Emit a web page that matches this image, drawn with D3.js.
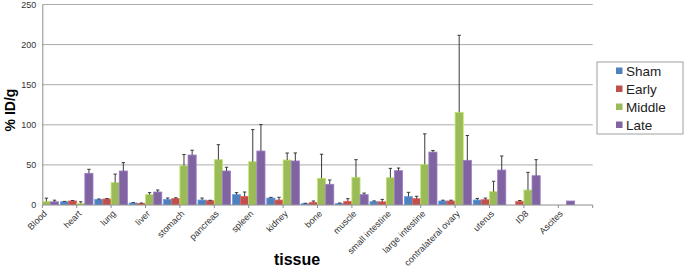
<!DOCTYPE html>
<html>
<head>
<meta charset="utf-8">
<script src="https://cdn.jsdelivr.net/npm/d3@7"></script>
<style>
  body { margin: 0; background: #fff; }
  svg { font-family: "Liberation Sans", Arial, sans-serif; }
</style>
</head>
<body>
<div id="chart"></div>
<script>
// tissues along the x axis
const tissues = ["Blood", "heart", "lung", "liver", "stomach", "pancreas", "spleen", "kidney",
  "bone", "muscle", "small intestine", "large intestine", "contralateral ovary", "uterus", "ID8", "Ascites"]
const groups = ["Sham", "Early", "Middle", "Late"]
const colors = ["#4F81BD", "#C0504D", "#9BBB59", "#8064A2"]

// mean %ID/g per group (null = no bar)
const sham   = [null, 4, 7, 2.5, 7, 6.2, 12.9, 8.7, 1.7, 2, 4.1, 10.4, 5, 6.2, null, null]
const early  = [null, 5, 7.5, 2, 8, 5.4, 10.8, 6.2, 3.3, 4.6, 4, 7.9, 5, 6.6, 4.6, null]
const middle = [4.5, 2, 28, 12.9, 49, 56.5, 54, 56.1, 33.3, 34.5, 34, 50.7, 115.6, 16.6, 18.7, null]
const late   = [4, 39.5, 42.4, 16.2, 62.3, 42.4, 67.3, 54.9, 25.8, 12.9, 42.8, 66, 55.7, 43.6, 36.5, 5]

// upper error bars
const shamErr   = [null, 0.5, 0.5, 0.5, 1.7, 2.5, 2.5, 0.8, 0.5, 0.5, 1, 5.4, 1, 2, null, null]
const earlyErr  = [null, 0.5, 0.5, 0.5, 1, 0.5, 5.4, 3.4, 1.7, 3.3, 3, 3, 1, 2, 1, null]
const middleErr = [4, 2, 10.5, 2.5, 14, 18.7, 40, 8.7, 30, 22, 11.7, 38, 96, 13, 22, null]
const lateErr   = [2, 5, 10.4, 2.5, 6, 4.6, 33, 10, 5.4, 2, 3.3, 2, 31, 17.5, 20, null]

const yTicks = [0, 50, 100, 150, 200, 250]

const means = [sham, early, middle, late]
const errs = [shamErr, earlyErr, middleErr, lateErr]

const width = 685, height = 267
const plot = {left: 42.3, right: 592.7, top: 4.5, bottom: 205}

const svg = d3.select("#chart").append("svg")
  .attr("width", width)
  .attr("height", height)

// categories sit on the tick marks, last slot left empty
const step = (plot.right - plot.left) / tissues.length
const x = d3.scalePoint()
  .domain(tissues)
  .range([plot.left, plot.left + step * (tissues.length - 1)])

const xInner = d3.scaleBand()
  .domain(groups)
  .range([-16.3, 16.3])

const y = d3.scaleLinear()
  .domain([0, 250])
  .range([plot.bottom, plot.top])

// gridlines
svg.append("g")
  .selectAll("line")
  .data(yTicks.filter(d => d > 0))
  .enter()
  .append("line")
  .attr("x1", plot.left)
  .attr("x2", plot.right)
  .attr("y1", d => y(d))
  .attr("y2", d => y(d))
  .attr("stroke", "#ababab")
  .attr("stroke-width", 1)

// y axis
const yAxis = svg.append("g")
  .attr("transform", "translate(" + plot.left + ",0)")
  .call(d3.axisLeft(y).tickValues(yTicks).tickSize(0).tickPadding(6))
yAxis.select(".domain").attr("stroke", "#8c8c8c")
yAxis.selectAll("text").attr("font-size", "9px").attr("fill", "#333")

svg.append("defs").append("clipPath")
  .attr("id", "plot-clip")
  .append("rect")
  .attr("x", plot.left + 0.5)
  .attr("y", 0)
  .attr("width", plot.right - plot.left)
  .attr("height", plot.bottom)

// build flat list of bars
const bars = []
tissues.forEach((t, i) => {
  groups.forEach((g, j) => {
    if (means[j][i] != null) {
      bars.push({tissue: t, group: g, value: means[j][i], err: errs[j][i], color: colors[j]})
    }
  })
})

const barLayer = svg.append("g").attr("clip-path", "url(#plot-clip)")

barLayer.selectAll("rect")
  .data(bars)
  .enter()
  .append("rect")
  .attr("x", d => x(d.tissue) + xInner(d.group))
  .attr("y", d => y(d.value))
  .attr("width", xInner.bandwidth())
  .attr("height", d => y(0) - y(d.value))
  .attr("fill", d => d.color)
  .attr("stroke", d => d3.color(d.color).brighter(0.6))
  .attr("stroke-width", 0.8)

// error bars (upper only)
const errBars = bars.filter(d => d.err != null)
const eb = barLayer.append("g")
  .selectAll("g")
  .data(errBars)
  .enter()
  .append("g")
  .attr("stroke", "#3a3a3a")
  .attr("stroke-width", 1)

eb.append("line")
  .attr("x1", d => x(d.tissue) + xInner(d.group) + xInner.bandwidth() / 2)
  .attr("x2", d => x(d.tissue) + xInner(d.group) + xInner.bandwidth() / 2)
  .attr("y1", d => y(d.value))
  .attr("y2", d => y(d.value + d.err))

eb.append("line")
  .attr("x1", d => x(d.tissue) + xInner(d.group) + xInner.bandwidth() / 2 - 1.7)
  .attr("x2", d => x(d.tissue) + xInner(d.group) + xInner.bandwidth() / 2 + 1.7)
  .attr("y1", d => y(d.value + d.err))
  .attr("y2", d => y(d.value + d.err))

// x axis line and ticks
svg.append("line")
  .attr("x1", plot.left)
  .attr("x2", plot.right)
  .attr("y1", plot.bottom)
  .attr("y2", plot.bottom)
  .attr("stroke", "#8c8c8c")

const tickPos = tissues.map(t => x(t)).concat([x(tissues[tissues.length - 1]) + step])
svg.append("g")
  .selectAll("line")
  .data(tickPos)
  .enter()
  .append("line")
  .attr("x1", d => d)
  .attr("x2", d => d)
  .attr("y1", plot.bottom)
  .attr("y2", plot.bottom + 3)
  .attr("stroke", "#8c8c8c")

// rotated category labels
svg.append("g")
  .selectAll("text")
  .data(tissues)
  .enter()
  .append("text")
  .attr("transform", d => "translate(" + [x(d) + 3, plot.bottom + 7] + ") rotate(-45)")
  .attr("text-anchor", "end")
  .attr("dy", "0.35em")
  .attr("font-size", "9px")
  .attr("fill", "#333")
  .text(d => d)

// axis titles
svg.append("text")
  .attr("transform", "translate(" + [15, 110] + ") rotate(-90)")
  .attr("text-anchor", "middle")
  .attr("font-size", "14px")
  .attr("font-weight", "bold")
  .text("% ID/g")

svg.append("text")
  .attr("x", 297)
  .attr("y", 265)
  .attr("text-anchor", "middle")
  .attr("font-size", "16px")
  .attr("font-weight", "bold")
  .text("tissue")

// legend
const legend = svg.append("g").attr("transform", "translate(597,62)")
legend.append("rect")
  .attr("width", 86)
  .attr("height", 72)
  .attr("fill", "#fff")
  .attr("stroke", "#a0a0a0")

const item = legend.selectAll(".item")
  .data(groups)
  .enter()
  .append("g")
  .attr("class", "item")
  .attr("transform", (d, i) => "translate(19," + (9 + i * 18) + ")")

item.append("rect")
  .attr("x", 0)
  .attr("y", -3.5)
  .attr("width", 6.5)
  .attr("height", 6.5)
  .attr("fill", (d, i) => colors[i])

item.append("text")
  .attr("x", 10)
  .attr("dy", "0.35em")
  .attr("font-size", "13.5px")
  .attr("fill", "#222")
  .text(d => d)
</script>
</body>
</html>
